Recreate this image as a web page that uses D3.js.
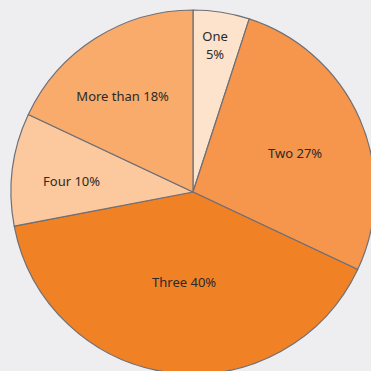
<!DOCTYPE html>
<html>
<head>
<meta charset="utf-8">
<script src="https://cdn.jsdelivr.net/npm/d3@7"></script>
<style>
  html, body { margin: 0; padding: 0; background: #eeeef1; }
  svg { display: block; }
</style>
</head>
<body>
<svg id="chart" width="371" height="371"></svg>
<script>
// Number of items per group, as shares of the total (percent)
const categories = ["One", "Two", "Three", "Four", "More than"];
const shares = [5, 27, 40, 10, 18];
const sliceColors = ["#fde2cc", "#f6964d", "#f08125", "#fcc99e", "#f8ab6b"];

// Label placement: radial fraction of the pie radius and angular nudge (degrees)
const labelRadius = [0.82, 0.60, 0.50, 0.67, 0.65];
const labelNudge = [-0.5, 2.6, -1.6, -2.0, -4.1];

const width = 371, height = 371;
const cx = 193, cy = 192, radius = 182;

const svg = d3.select("#chart");
const g = svg.append("g").attr("transform", `translate(${cx},${cy})`);

const data = categories.map((c, i) => ({ name: c, value: shares[i], i }));

const pie = d3.pie().value(d => d.value).sort(null);
const arcs = pie(data);

const arc = d3.arc().innerRadius(0).outerRadius(radius);

g.selectAll("path.slice")
  .data(arcs)
  .join("path")
  .attr("class", "slice")
  .attr("d", arc)
  .attr("fill", d => sliceColors[d.data.i])
  .attr("stroke", "#6f6f76")
  .attr("stroke-width", 1.2)
  .attr("stroke-linejoin", "round");

const labels = g.selectAll("text.label")
  .data(arcs)
  .join("text")
  .attr("class", "label")
  .attr("text-anchor", "middle")
  .attr("font-family", "'Noto Sans', 'Open Sans', sans-serif")
  .attr("font-size", 13)
  .attr("fill", "#2a2a2a")
  .attr("transform", d => {
    const a = (d.startAngle + d.endAngle) / 2 + labelNudge[d.data.i] * Math.PI / 180;
    const r = radius * labelRadius[d.data.i];
    return `translate(${r * Math.sin(a)},${-r * Math.cos(a)})`;
  });

labels.each(function(d) {
  const t = d3.select(this);
  const pct = `${d.data.value}%`;
  if (d.data.name === "One") {
    t.append("tspan").attr("x", 0).attr("dy", "-0.3em").text(d.data.name);
    t.append("tspan").attr("x", 0).attr("dy", "1.4em").text(pct);
  } else {
    t.append("tspan").attr("x", 0).attr("dy", "0.35em").text(`${d.data.name} ${pct}`);
  }
});
</script>
</body>
</html>
